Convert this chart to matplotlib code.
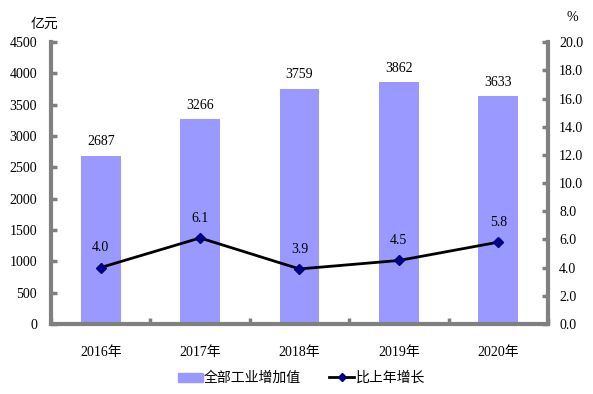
import matplotlib
matplotlib.use("Agg")
import matplotlib.pyplot as plt
from matplotlib.lines import Line2D
from matplotlib.patches import Patch

plt.rcParams['font.family'] = ['Liberation Serif', 'Noto Sans CJK SC', 'DejaVu Sans']

# 数据
years = ['2016年', '2017年', '2018年', '2019年', '2020年']
value_added = [2687, 3266, 3759, 3862, 3633]     # 全部工业增加值（亿元）
growth = [4.0, 6.1, 3.9, 4.5, 5.8]               # 比上年增长（%）

spine_c = '#808080'
bar_c = '#9999FF'

fig = plt.figure(figsize=(5.93, 3.94), dpi=100)
ax = fig.add_axes([0.086, 0.178, 0.838, 0.715])
x = list(range(len(years)))
ax.bar(x, value_added, width=0.4, color=bar_c, zorder=2)
for xi, v in zip(x, value_added):
    ax.text(xi, v + 120, str(v), ha='center', va='bottom', fontsize=10)
ax.set_xlim(-0.5, 4.5)
ax.set_ylim(0, 4500)
ax.set_yticks(range(0, 4501, 500))
ax.set_xticks(x)
ax.set_xticklabels(years, fontsize=10)
ax.tick_params(axis='x', length=0, pad=16)
ax.set_xticks([i + 0.5 for i in range(-1, 5)], minor=True)
ax.tick_params(axis='x', which='minor', direction='in', length=4, width=2.5, color=spine_c)
ax.tick_params(axis='y', direction='in', length=4, width=2.5, color=spine_c, labelsize=10, pad=10)
for s in ['top', 'right']:
    ax.spines[s].set_visible(False)
for s in ['left', 'bottom']:
    ax.spines[s].set_color(spine_c)
    ax.spines[s].set_linewidth(3)

ax2 = ax.twinx()
ax2.plot(x, growth, color='black', lw=2, marker='D', ms=5,
         markerfacecolor='#000080', markeredgecolor='#000080', zorder=3)
for xi, g in zip(x, growth):
    ax2.text(xi, g + 0.95, f'{g:.1f}', ha='center', va='bottom', fontsize=10)
ax2.set_ylim(0, 20)
ax2.set_yticks([i * 2.0 for i in range(11)])
ax2.set_yticklabels([f'{i * 2.0:.1f}' for i in range(11)])
ax2.tick_params(axis='y', direction='in', length=4, width=2.5, color=spine_c, labelsize=10, pad=8)
for s in ['top', 'left', 'bottom']:
    ax2.spines[s].set_visible(False)
ax2.spines['right'].set_color(spine_c)
ax2.spines['right'].set_linewidth(3)

fig.text(0.075, 0.94, '亿元', ha='center', va='center', fontsize=10, family=['Noto Sans CJK SC'])
fig.text(0.965, 0.955, '%', ha='center', va='center', fontsize=10)

handles = [Patch(color=bar_c),
           Line2D([0], [0], color='black', lw=2, marker='D', ms=4,
                  markerfacecolor='#000080', markeredgecolor='#000080')]
fig.legend(handles, ['全部工业增加值', '比上年增长'], loc='center', bbox_to_anchor=(0.508, 0.04),
           ncol=2, frameon=False, prop={'family': 'Noto Sans CJK SC', 'size': 10},
           handlelength=1.8, handletextpad=0.1, columnspacing=2.0)

fig.savefig('out.png', dpi=100)
